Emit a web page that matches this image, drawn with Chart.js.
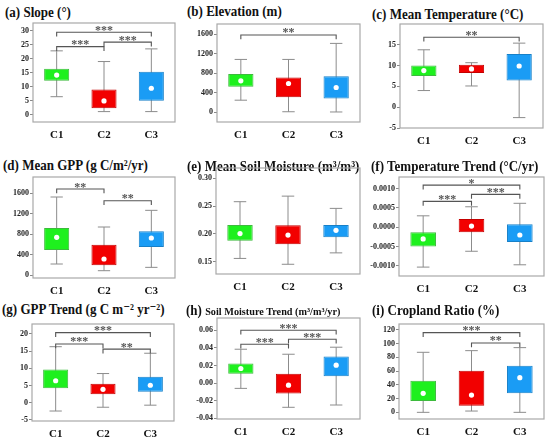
<!DOCTYPE html>
<html><head><meta charset="utf-8">
<script src="https://cdn.jsdelivr.net/npm/chart.js@4.4.1/dist/chart.umd.min.js"></script>
<style>
body{margin:0;background:#fff;width:550px;height:440px;position:relative;overflow:hidden;font-family:"Liberation Serif","Tinos","DejaVu Serif",serif;}
.ttl{position:absolute;font-weight:bold;font-size:14px;line-height:16px;white-space:nowrap;color:#111;transform:scaleX(0.93);transform-origin:0 50%;}
.ttl span{font-size:11px;}
canvas{position:absolute;}
</style></head><body>
<script>
const categories = ['C1','C2','C3'];

// each row: [lower whisker, Q1, Q3, upper whisker]
const slopeStats = [[6.5,12.2,16.4,22.8],[1.2,2.4,9.1,19.0],[1.2,5.1,15.4,23.5]];
const slopeMean  = [14.2,5.0,9.5];
const slopeTicks = [0,5,10,15,20,25,30];
const slopeSig   = [[0,2,29.4,'***'],[0,1,24.3,'***'],[1,2,25.9,'***']];

const elevStats = [[246,520,780,1080],[10,308,711,1080],[5,280,738,1408]];
const elevMean  = [643,588,506];
const elevTicks = [0,400,800,1200,1600];
const elevSig   = [[0,2,1580,'**']];

const tempStats = [[4.0,7.5,10.0,13.8],[5.1,8.2,10.2,10.7],[-2.5,6.4,12.8,15.4]];
const tempMean  = [8.8,9.2,9.9];
const tempTicks = [-5,0,5,10,15];
const tempSig   = [[0,2,16.8,'**']];

const gppStats = [[220,492,920,1522],[90,194,596,939],[155,550,855,1263]];
const gppMean  = [738,317,725];
const gppTicks = [0,400,800,1200,1600];
const gppSig   = [[0,1,1677,'**'],[1,2,1450,'**']];

const smStats = [[0.156,0.188,0.216,0.258],[0.1455,0.1814,0.2156,0.268],[0.166,0.194,0.216,0.246]];
const smMean  = [0.2006,0.198,0.2066];
const smTicks = [0.15,0.20,0.25,0.30];
const smSig   = [];

const ttStats = [[-0.00103,-0.0005,-0.00013,0.000296],[-0.00062,-0.00013,0.000217,0.00053],[-0.00097,-0.00038,0.00008,0.00062]];
const ttMean  = [-0.0003,0.00003,-0.0002];
const ttTicks = [-0.001,-0.0005,0,0.0005,0.001];
const ttSig   = [[0,2,0.00109,'*'],[0,1,0.00067,'***'],[1,2,0.00085,'***']];

const gtStats = [[-2.4,4.2,9.7,16.3],[-1.3,2.5,5.5,8.5],[-0.7,3.2,7.6,14.4]];
const gtMean  = [6.4,3.9,5.1];
const gtTicks = [-5,0,5,10,15,20];
const gtSig   = [[0,2,20.4,'***'],[0,1,17.1,'***'],[1,2,15.6,'**']];

const smtStats = [[-0.006,0.0106,0.0223,0.0385],[-0.0275,-0.0117,0.0106,0.0328],[-0.0249,0.0079,0.0302,0.0408]];
const smtMean  = [0.0166,-0.0023,0.0204];
const smtTicks = [-0.04,-0.02,0,0.02,0.04,0.06];
const smtSig   = [[0,2,0.060,'***'],[0,1,0.0442,'***'],[1,2,0.0498,'***']];

const cropStats = [[0,16.5,46,87.4],[1.9,9.7,60.7,89.8],[0,27.7,68,94.2]];
const cropMean  = [27.7,25.2,50.5];
const cropTicks = [0,20,40,60,80,100,120];
const cropSig   = [[0,2,116,'***'],[1,2,101,'**']];

const fills   = ['#1EF01E','#F20000','#1A9CF5'];
const borders = ['#3DBA3D','#C40000','#1780C8'];
const FONT = '"Liberation Serif","Tinos","DejaVu Serif",serif';

const panels = [
 {title:'(a) Slope (°)', stats:slopeStats, mean:slopeMean, ticks:slopeTicks, sig:slopeSig, dec:0, ymin:-2.5, ymax:32.7, frame:[33,23,175,122], tp:[5,5]},
 {title:'(b) Elevation (m)', stats:elevStats, mean:elevMean, ticks:elevTicks, sig:elevSig, dec:0, ymin:-200, ymax:1805, frame:[217,24,360,122], tp:[187,4]},
 {title:'(c) Mean Temperature (°C)', stats:tempStats, mean:tempMean, ticks:tempTicks, sig:tempSig, dec:0, ymin:-5, ymax:20, frame:[400,24,543,128], tp:[372,7]},
 {title:'(d) Mean GPP (g C/m²/yr)', stats:gppStats, mean:gppMean, ticks:gppTicks, sig:gppSig, dec:0, ymin:-52, ymax:1911, frame:[33,177,175,278], tp:[3,158]},
 {title:'(e) Mean Soil Moisture (m³/m³)', stats:smStats, mean:smMean, ticks:smTicks, sig:smSig, dec:2, ymin:0.128, ymax:0.3186, frame:[216,168,360,274], tp:[187,159]},
 {title:'(f) Temperature Trend (°C/yr)', stats:ttStats, mean:ttMean, ticks:ttTicks, sig:ttSig, dec:4, ymin:-0.00126, ymax:0.0013, frame:[399,177,544,276], tp:[371,159]},
 {title:'(g) GPP Trend (g C m⁻² yr⁻²)', stats:gtStats, mean:gtMean, ticks:gtTicks, sig:gtSig, dec:0, ymin:-5.3, ymax:22.9, frame:[32,324,174,421], tp:[2,302]},
 {title:'(h) <span>Soil Moisture Trend (m³/m³/yr)</span>', stats:smtStats, mean:smtMean, ticks:smtTicks, sig:smtSig, dec:2, ymin:-0.0408, ymax:0.074, frame:[217,318,360,419], tp:[186,303]},
 {title:'(i) Cropland Ratio (%)', stats:cropStats, mean:cropMean, ticks:cropTicks, sig:cropSig, dec:0, ymin:-9.7, ymax:128.6, frame:[399,324,544,419], tp:[372,303]}
];

const YW=40, PT=8, PR=4, XH=22;

const boxPlugin = {
  id:'boxExtras',
  beforeDatasetsDraw(chart){
    const p = chart.$panel, x = chart.scales.x, y = chart.scales.y, ctx = chart.ctx;
    ctx.save();
    const cw = x.getPixelForValue(1) - x.getPixelForValue(0);
    const cap = cw*0.13;
    ctx.strokeStyle = '#8c8c8c'; ctx.lineWidth = 1;
    p.stats.forEach((s,i)=>{
      const cx = x.getPixelForValue(i);
      const y0 = y.getPixelForValue(s[0]), y3 = y.getPixelForValue(s[3]);
      ctx.beginPath();
      ctx.moveTo(cx,y0); ctx.lineTo(cx,y3);
      ctx.moveTo(cx-cap,y0); ctx.lineTo(cx+cap,y0);
      ctx.moveTo(cx-cap,y3); ctx.lineTo(cx+cap,y3);
      ctx.stroke();
    });
    ctx.restore();
  },
  afterDatasetsDraw(chart){
    const p = chart.$panel, x = chart.scales.x, y = chart.scales.y, ctx = chart.ctx;
    const ca = chart.chartArea;
    ctx.save();
    ctx.strokeStyle = '#a8a8a8'; ctx.lineWidth = 1.2;
    ctx.strokeRect(ca.left, ca.top, ca.right-ca.left, ca.bottom-ca.top);
    ctx.strokeStyle = '#555'; ctx.lineWidth = 1.1;
    ctx.fillStyle = '#555';
    ctx.font = 'bold 12px ' + FONT;
    ctx.textAlign = 'center'; ctx.textBaseline = 'alphabetic';
    const drop = 4.3;
    p.sig.forEach(b=>{
      const x1 = x.getPixelForValue(b[0]), x2 = x.getPixelForValue(b[1]);
      const yy = y.getPixelForValue(b[2]);
      ctx.beginPath();
      ctx.moveTo(x1,yy+drop); ctx.lineTo(x1,yy); ctx.lineTo(x2,yy); ctx.lineTo(x2,yy+drop);
      ctx.stroke();
      ctx.fillText(b[3], (x1+x2)/2, yy+1.5);
    });
    ctx.restore();
  }
};

panels.forEach(p=>{
  const [l,t,r,b] = p.frame;
  const t1 = document.createElement('div');
  t1.className='ttl'; t1.innerHTML = p.title;
  t1.style.left = p.tp[0]+'px'; t1.style.top = p.tp[1]+'px';
  document.body.appendChild(t1);
  const c = document.createElement('canvas');
  const W = (r-l)+YW+PR, H = (b-t)+PT+XH;
  c.width = W; c.height = H;
  c.style.width = W+'px'; c.style.height = H+'px';
  c.style.left = (l-YW)+'px'; c.style.top = (t-PT)+'px';
  document.body.appendChild(c);
  new Chart(c, {
    type:'bar',
    data:{labels:categories, datasets:[
      {type:'line', data:p.mean, showLine:false, pointRadius:2.6, pointHoverRadius:2.6,
       pointBackgroundColor:'#fff', pointBorderWidth:0, order:0},
      {type:'bar', data:p.stats.map(s=>[s[1],s[2]]), backgroundColor:fills, borderColor:borders,
       borderWidth:1, borderSkipped:false, barPercentage:0.53, categoryPercentage:1, order:1}
    ]},
    options:{
      responsive:false, animation:false, devicePixelRatio:1,
      layout:{padding:{top:PT,right:PR,left:0,bottom:0}},
      plugins:{legend:{display:false}, tooltip:{enabled:false}, title:{display:false}},
      scales:{
        x:{grid:{display:false,drawTicks:false}, border:{display:false},
           ticks:{font:{family:FONT,size:11,weight:'bold'}, color:'#111', padding:7},
           afterFit:s=>{s.height=XH;}},
        y:{min:p.ymin, max:p.ymax,
           grid:{display:true, drawOnChartArea:false, drawTicks:true, tickLength:3, color:'#888'},
           border:{display:false},
           ticks:{font:{family:FONT,size:8,weight:'bold'}, color:'#222', padding:1,
                  callback:v=>Number(v).toFixed(p.dec)},
           afterBuildTicks:s=>{s.ticks = p.ticks.map(v=>({value:v}));},
           afterFit:s=>{s.width=YW;}}
      }
    },
    plugins:[{id:'panelRef', beforeInit(ch){ch.$panel=p;}}, boxPlugin]
  });
});
</script>
</body></html>
